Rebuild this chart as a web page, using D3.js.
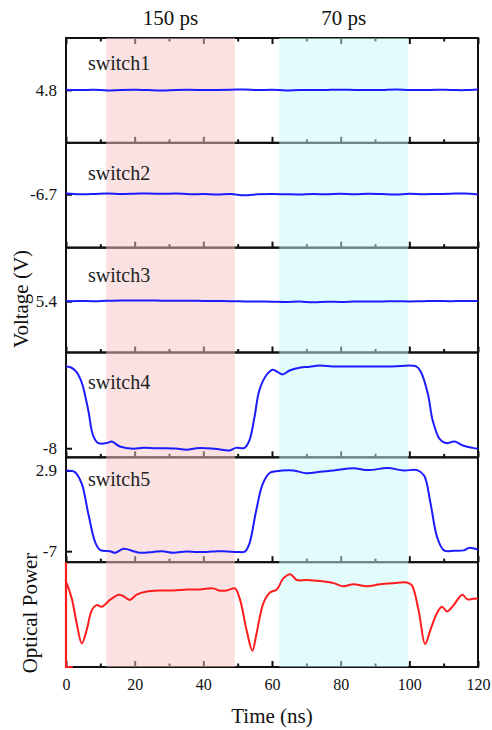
<!DOCTYPE html>
<html><head><meta charset="utf-8">
<script src="https://cdn.jsdelivr.net/npm/d3@7"></script>
<style>html,body{margin:0;padding:0;background:#fff;}svg{display:block;}</style>
</head><body>
<svg id="c" width="492" height="730"></svg>
<script>
// ---------- data ----------
const xTicksMajor = [0, 20, 40, 60, 80, 100, 120];
const xTicksMinor = [10, 30, 50, 70, 90, 110];
const panelNames = ["switch1", "switch2", "switch3", "switch4", "switch5", ""];
const yTickValues = [[4.8], [-6.7], [5.4], [-8], [2.9, -7], []];
const yTickLabels = [["4.8"], ["-6.7"], ["5.4"], ["-8"], ["2.9", "-7"], []];
const bands = [{x0: 11.7, x1: 49.2, label: "150 ps", color: "#f7c5c5"},
               {x0: 62.1, x1: 99.7, label: "70 ps", color: "#c5f7f7"}];

const flatT = [0,4,8,12,16,20,24,28,32,36,40,44,48,52,56,60,64,68,72,76,80,84,88,92,96,100,104,108,112,116,120];
const switch1V = [4.82,4.78,4.82,4.75,4.80,4.82,4.78,4.75,4.80,4.82,4.78,4.80,4.82,4.85,4.78,4.82,4.75,4.80,4.78,4.80,4.82,4.80,4.78,4.80,4.85,4.80,4.78,4.82,4.80,4.78,4.85];
const switch2V = [-6.62,-6.70,-6.68,-6.62,-6.68,-6.65,-6.62,-6.66,-6.62,-6.70,-6.68,-6.72,-6.68,-6.80,-6.70,-6.68,-6.70,-6.72,-6.68,-6.70,-6.66,-6.70,-6.65,-6.68,-6.72,-6.66,-6.70,-6.68,-6.65,-6.62,-6.72];
const switch3V = [5.40,5.42,5.40,5.45,5.48,5.46,5.47,5.45,5.44,5.45,5.43,5.42,5.40,5.38,5.37,5.35,5.32,5.36,5.30,5.35,5.32,5.36,5.38,5.37,5.40,5.38,5.40,5.42,5.40,5.43,5.42];

const switch4T = [0,1.5,3.1,4.2,5.0,6.5,7.9,9.4,11.8,13.3,15.7,19.6,22.5,26,29.3,32,35.1,38,40.9,44,47.6,49.5,52,53.4,54.9,56.3,58.3,60.2,61.7,63.1,65.1,68,71,73.8,77.7,81.6,87.4,95,102,103.4,105.4,106.8,108.8,110.7,113.2,115.6,118.5,120];
const switch4V = [3.14,3.0,2.36,1.4,0.31,-2.86,-6.27,-7.3,-7.3,-7.09,-7.77,-8.08,-7.95,-8.0,-8.0,-8.05,-8.2,-8.0,-8.0,-8.1,-8.3,-7.95,-7.95,-6.95,-3.77,-0.13,1.91,2.69,2.36,2.05,2.59,2.96,3.1,3.27,3.14,3.14,3.14,3.14,3.14,2.36,-0.59,-4.22,-6.72,-7.3,-7.09,-7.63,-7.95,-8.08];

const switch5T = [0,2.6,4.6,6.5,8.5,9.9,12.8,14.3,16.8,19.6,21.5,25.4,28,31.3,35,38,41,44,46.8,50,52.1,53.4,55.4,57.3,59.3,61.2,66.2,70,74,78,83.7,88,93.6,98.4,102.3,104.3,106.2,108.1,110.1,113,115.9,117.3,120];
const switch5V = [2.9,2.7,1.26,-2.41,-5.9,-6.83,-7.0,-7.2,-6.7,-7.0,-7.2,-7.1,-7.0,-7.2,-7.03,-7.1,-7.1,-7.0,-7.03,-7.1,-7.05,-6.1,-2.0,1.26,2.6,2.8,2.9,2.57,2.75,2.9,3.18,2.95,3.2,2.9,2.95,2.3,-1.19,-5.28,-6.9,-6.95,-6.9,-6.6,-6.83];

const opticalStartT = [2.0, 0, 0];
const opticalStartV = [0, 0, 1.0];
const opticalT = [0.2,1.7,3.1,4.6,6.0,7.5,8.9,10.4,12.8,15.3,16.5,18.6,20.6,23.5,27.4,31.3,35.2,39.0,42.9,44.5,46.8,49.2,50.7,52.6,54.3,55.5,57.5,59.4,61.4,63.3,65.3,67.2,70.1,74.0,77.9,80.8,83.7,87.6,91.5,95.4,99.3,100.7,102.7,104.6,106.1,108.0,109.5,111.0,112.9,115.4,116.9,118.5,120];
const opticalV = [0.80,0.65,0.42,0.225,0.35,0.54,0.59,0.575,0.64,0.69,0.68,0.64,0.69,0.72,0.73,0.73,0.74,0.74,0.75,0.73,0.73,0.75,0.64,0.35,0.155,0.32,0.61,0.71,0.74,0.845,0.885,0.83,0.83,0.82,0.80,0.77,0.79,0.77,0.79,0.80,0.806,0.78,0.54,0.22,0.35,0.51,0.575,0.53,0.59,0.69,0.645,0.65,0.655];

// per-panel y domains (bottom, top)
const yDomains = [[-0.5, 10.0], [-12.0, -1.6], [0.26, 10.76], [-9.24, 5.04], [-8.35, 4.52], [0, 1]];

// ---------- layout ----------
const svg = d3.select("#c");
const L = 66, R = 478, T = 38, B = 667;
const nP = 6, pH = (B - T) / nP;
const x = d3.scaleLinear().domain([0, 120]).range([L, R]);
const serif = "'Liberation Serif','Times New Roman',serif";
const blue = "#1c1cff", red = "#ff1c1c";

const yScales = yDomains.map((d, i) => d3.scaleLinear().domain(d).range([T + (i + 1) * pH, T + i * pH]));

const gFrame = svg.append("g");
function styleTicks(g) {
  g.select(".domain").remove();
  g.selectAll("line").attr("stroke", "#111").attr("stroke-width", 2);
}
for (let i = 0; i < nP; i++) {
  const top = T + i * pH, bot = T + (i + 1) * pH;
  styleTicks(gFrame.append("g").attr("transform", `translate(0,${bot})`)
    .call(d3.axisBottom(x).tickValues(xTicksMajor).tickSize(-6).tickFormat("")));
  styleTicks(gFrame.append("g").attr("transform", `translate(0,${bot})`)
    .call(d3.axisBottom(x).tickValues(xTicksMinor).tickSize(-3.5).tickFormat("")));
  if (i === 0) {
    styleTicks(gFrame.append("g").attr("transform", `translate(0,${top})`)
      .call(d3.axisTop(x).tickValues(xTicksMajor).tickSize(-6).tickFormat("")));
    styleTicks(gFrame.append("g").attr("transform", `translate(0,${top})`)
      .call(d3.axisTop(x).tickValues(xTicksMinor).tickSize(-3.5).tickFormat("")));
  }
  const ay = d3.axisLeft(yScales[i]).tickValues(yTickValues[i]).tickSize(-6)
      .tickFormat((d, k) => yTickLabels[i][k]).tickPadding(9);
  const gy = gFrame.append("g").attr("transform", `translate(${L},0)`).call(ay);
  styleTicks(gy);
  gy.selectAll("text").attr("font-family", serif).attr("font-size", 17).attr("fill", "#111");
  gFrame.append("rect").attr("x", L).attr("y", top).attr("width", R - L).attr("height", pH)
    .attr("fill", "none").attr("stroke", "#111").attr("stroke-width", 2);
}

// bottom tick labels
const gB = svg.append("g").attr("transform", `translate(0,${B})`)
  .call(d3.axisBottom(x).tickValues(xTicksMajor).tickSize(0).tickPadding(12));
gB.select(".domain").remove();
gB.selectAll("text").attr("font-family", serif).attr("font-size", 16).attr("fill", "#111");

// shaded bands (overlaying frame)
svg.append("g").selectAll("rect").data(bands).join("rect")
  .attr("x", d => x(d.x0)).attr("width", d => x(d.x1) - x(d.x0))
  .attr("y", T).attr("height", B - T)
  .attr("fill", d => d.color).attr("fill-opacity", 0.5);
svg.append("g").selectAll("text").data(bands).join("text")
  .attr("x", d => x((d.x0 + d.x1) / 2)).attr("y", 25)
  .attr("text-anchor", "middle").attr("font-family", serif).attr("font-size", 21).attr("fill", "#111")
  .text(d => d.label);

// panel labels
const labelBase = [70, 180, 282, 389, 486];
svg.append("g").selectAll("text").data(panelNames.filter(d => d)).join("text")
  .attr("x", 88).attr("y", (d, i) => labelBase[i])
  .attr("font-family", serif).attr("font-size", 20).attr("fill", "#222").text(d => d);

// data lines
const series = [
  {t: flatT, v: switch1V}, {t: flatT, v: switch2V}, {t: flatT, v: switch3V},
  {t: switch4T, v: switch4V}, {t: switch5T, v: switch5V}
];
series.forEach((s, i) => {
  const line = d3.line().x(d => x(d[0])).y(d => yScales[i](d[1])).curve(d3.curveCatmullRom.alpha(0.5));
  svg.append("path").attr("d", line(s.t.map((t, k) => [t, s.v[k]])))
    .attr("fill", "none").attr("stroke", blue).attr("stroke-width", 2);
});
const yo = yScales[5];
const lineO = d3.line().x(d => x(d[0])).y(d => yo(d[1])).curve(d3.curveCatmullRom.alpha(0.5));
svg.append("path").attr("d", d3.line().x(d => x(d[0])).y(d => yo(d[1]))(opticalStartT.map((t, k) => [t, opticalStartV[k]])))
  .attr("fill", "none").attr("stroke", red).attr("stroke-width", 2.2);
svg.append("path").attr("d", lineO(opticalT.map((t, k) => [t, opticalV[k]])))
  .attr("fill", "none").attr("stroke", red).attr("stroke-width", 2);

// axis titles
svg.append("text").attr("transform", "translate(28,299) rotate(-90)")
  .attr("text-anchor", "middle").attr("font-family", serif).attr("font-size", 21).attr("fill", "#111")
  .text("Voltage (V)");
svg.append("text").attr("transform", "translate(37,613) rotate(-90)")
  .attr("text-anchor", "middle").attr("font-family", serif).attr("font-size", 21).attr("fill", "#111")
  .text("Optical Power");
svg.append("text").attr("x", 272).attr("y", 723)
  .attr("text-anchor", "middle").attr("font-family", serif).attr("font-size", 21).attr("fill", "#111")
  .text("Time (ns)");
</script>
</body></html>
